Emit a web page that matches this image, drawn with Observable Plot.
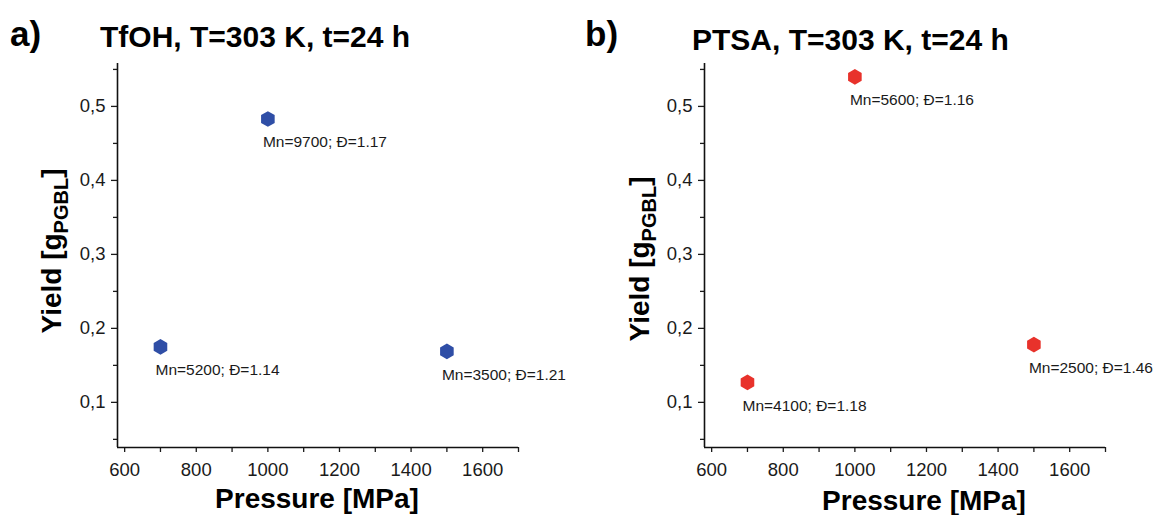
<!DOCTYPE html>
<html><head><meta charset="utf-8">
<script src="https://cdn.jsdelivr.net/npm/d3@7"></script>
<script src="https://cdn.jsdelivr.net/npm/@observablehq/plot@0.6"></script>
<style>
body{margin:0;background:#fff;}
#wrap{display:flex;width:1156px;height:515px;overflow:hidden;}
</style></head><body><div id="wrap"></div>
<script>
const pressure = [700, 1000, 1500];
const yieldTfOH = [0.175, 0.483, 0.169];
const labelsTfOH = ["Mn=5200; Đ=1.14", "Mn=9700; Đ=1.17", "Mn=3500; Đ=1.21"];
const yieldPTSA = [0.127, 0.540, 0.178];
const labelsPTSA = ["Mn=4100; Đ=1.18", "Mn=5600; Đ=1.16", "Mn=2500; Đ=1.46"];
const xTicks = [600, 800, 1000, 1200, 1400, 1600];
const xMinor = [700, 900, 1100, 1300, 1500, 1700];
const yTicks = [0.1, 0.2, 0.3, 0.4, 0.5];
const yMinor = [0.05, 0.15, 0.25, 0.35, 0.45, 0.55];
const xDomain = [580, 1700];
const yDomain = [0.039, 0.558];

const FONT = "'Liberation Sans', Arial, Helvetica, sans-serif";

function panel(cfg) {
  const data = pressure.map((p, i) => ({p, y: cfg.values[i], label: cfg.labels[i]}));
  const svg = Plot.plot({
    width: 578, height: 515,
    marginTop: 63, marginBottom: 68, marginLeft: cfg.ml, marginRight: 578 - cfg.ml - 401,
    style: {fontFamily: FONT, fontSize: "18.5px", color: "#1a1a1a", background: "#fff", overflow: "visible"},
    x: {domain: xDomain},
    y: {domain: yDomain},
    marks: [
      Plot.axisY({ticks: yTicks, tickSize: 6, tickPadding: 6, tickFormat: d => d.toFixed(1).replace(".", ","), label: null, strokeWidth: 1.3}),
      Plot.axisY({ticks: yMinor, tickSize: 4, tickFormat: () => "", label: null, strokeWidth: 1.3}),
      Plot.axisX({ticks: xTicks, tickSize: 5, tickPadding: 10, tickFormat: d => String(d), label: null, strokeWidth: 1.3}),
      Plot.axisX({ticks: xMinor, tickSize: 5, tickFormat: () => "", label: null, strokeWidth: 1.3}),
      Plot.ruleX([xDomain[0]], {stroke: "#111", strokeWidth: 1.6}),
      Plot.ruleY([yDomain[0]], {stroke: "#111", strokeWidth: 1.6}),
      Plot.dot(data, {x: "p", y: "y", symbol: "hexagon", r: 6.8, fill: cfg.color, stroke: "none"}),
      Plot.text(data, {x: "p", y: "y", text: "label", textAnchor: "start", lineAnchor: "middle", dx: -5, dy: 23.5, fontSize: 15.5, fill: "#1a1a1a"})
    ]
  });
  const s = d3.select(svg);
  s.append("text").attr("x", cfg.letterX).attr("y", 46).attr("text-anchor", "start").attr("font-size", 35).attr("font-weight", "bold").attr("fill", "#000").text(cfg.letter);
  s.append("text").attr("x", cfg.titleX).attr("y", cfg.titleY).attr("text-anchor", "start").attr("font-size", 30).attr("font-weight", "bold").attr("fill", "#000").text(cfg.title);
  const yl = s.append("text").attr("transform", `translate(${cfg.ylx},${cfg.yly}) rotate(-90)`).attr("text-anchor", "middle").attr("font-size", 28).attr("font-weight", "bold").attr("fill", "#000");
  yl.append("tspan").text("Yield [g");
  yl.append("tspan").attr("font-size", 20).attr("dy", 7).text("PGBL");
  yl.append("tspan").attr("dy", -7).text("]");
  s.append("text").attr("x", cfg.xlx).attr("y", cfg.xly).attr("text-anchor", "middle").attr("font-size", 28).attr("font-weight", "bold").attr("fill", "#000").text("Pressure [MPa]");
  return svg;
}

const wrap = document.getElementById("wrap");
wrap.appendChild(panel({values: yieldTfOH, labels: labelsTfOH, color: "#2f4ea6", ml: 117,
  letter: "a)", letterX: 10, title: "TfOH, T=303 K, t=24 h", titleX: 100, titleY: 47,
  ylx: 61, yly: 251, xlx: 317, xly: 508}));
wrap.appendChild(panel({values: yieldPTSA, labels: labelsPTSA, color: "#e8322b", ml: 126,
  letter: "b)", letterX: 7, title: "PTSA, T=303 K, t=24 h", titleX: 114, titleY: 50,
  ylx: 71, yly: 259, xlx: 346, xly: 510}));
</script></body></html>
